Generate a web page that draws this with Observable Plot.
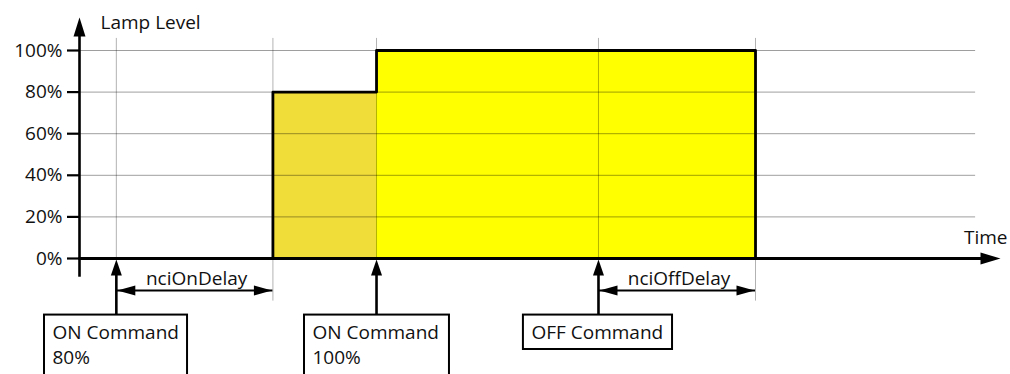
<!DOCTYPE html>
<html><head><meta charset="utf-8">
<script src="https://cdn.jsdelivr.net/npm/d3@7"></script>
<script src="https://cdn.jsdelivr.net/npm/@observablehq/plot@0.6"></script>
<style>body{margin:0;background:#fff} svg{font-family:"Open Sans",sans-serif}</style>
</head><body><div id="chart"></div>
<script>
// ---- data (time in arbitrary units, level in %) ----
const levelTimes = [0, 21.0, 32.25, 73.4];
const levelValues = [0, 80, 100, 0];
const fillStarts = [21.0, 32.25];
const fillEnds = [32.25, 73.4];
const fillLevels = [80, 100];
const fillColors = ["#F1DD39", "#FFFF00"];
const gridTimes = [4.0, 21.0, 32.25, 56.35, 73.4];
const delayEndTimes = [21.0, 73.4];
const commandTimes = [4.0, 32.25, 56.35];
const commandLabels = ["ON Command\n80%", "ON Command\n100%", "OFF Command"];
const commandBoxStarts = [-3.8, 24.43, 48.2];
const commandBoxEnds = [11.73, 40.17, 64.39];
const commandBoxBottoms = [-60, -60, -43.75];
const delayStarts = [4.0, 56.35];
const delayEnds = [21.0, 73.4];
const delayLabels = ["nciOnDelay", "nciOffDelay"];
const yTicks = [0, 20, 40, 60, 80, 100];
const yTickLabels = ["0%", "20%", "40%", "60%", "80%", "100%"];

// ---- layout helpers ----
const fs = 19;
const boxTop = -27.2;
const delayY = -15.4;
const head = {draw(ctx, l, r) { ctx.moveTo(0, -l); ctx.lineTo(r, 0); ctx.lineTo(-r, 0); ctx.closePath(); }};
const fills = fillStarts.map((s, i) => ({x1: s, x2: fillEnds[i], y: fillLevels[i], c: fillColors[i]}));
const level = levelTimes.map((t, i) => ({t, v: levelValues[i]}));
const cmds = commandTimes.map((t, i) => ({t, label: commandLabels[i], x1: commandBoxStarts[i], x2: commandBoxEnds[i], y2: commandBoxBottoms[i]}));
const delays = delayStarts.map((s, i) => ({s, e: delayEnds[i], m: (s + delayEnds[i]) / 2, label: delayLabels[i]}));

const chart = Plot.plot({
  width: 1010, height: 374,
  marginLeft: 79, marginRight: 10, marginTop: 50, marginBottom: 116,
  style: {fontFamily: "Open Sans", fontSize: fs + "px", background: "#fff"},
  x: {domain: [0, 100], axis: null},
  y: {domain: [0, 100], axis: null},
  marks: [
    Plot.rectY(fills, {x1: "x1", x2: "x2", y1: 0, y2: "y", fill: "c"}),
    Plot.ruleY(yTicks.slice(1), {x1: 0, x2: 97.3, stroke: "#000", strokeOpacity: 0.38, strokeWidth: 1}),
    Plot.ruleX(gridTimes, {y1: 0, y2: 105.8, stroke: "#000", strokeOpacity: 0.3, strokeWidth: 1}),
    Plot.ruleX(delayEndTimes, {y1: 0, y2: -20.5, stroke: "#000", strokeOpacity: 0.3, strokeWidth: 1}),
    Plot.line(level, {x: "t", y: "v", curve: "step-after", stroke: "#000", strokeWidth: 2.8}),
    // axes
    Plot.axisY({ticks: yTicks, tickFormat: (d, i) => yTickLabels[i], tickSize: 12, tickPadding: 5, fontSize: fs, strokeWidth: 2.2, stroke: "#000", color: "#111"}),
    Plot.ruleX([0], {y1: -9, y2: 108, stroke: "#000", strokeWidth: 2.6}),
    Plot.ruleY([0], {x1: 0, x2: 98, stroke: "#000", strokeWidth: 2.8}),
    Plot.vector([0], {x: 0, y: 115.9, length: 19, r: 6, rotate: 0, anchor: "end", shape: head, fill: "#000", stroke: "none"}),
    Plot.vector([0], {x: 100, y: 0, length: 20, r: 6, rotate: 90, anchor: "end", shape: head, fill: "#000", stroke: "none"}),
    Plot.text(["Lamp Level"], {x: 0, y: 110.1, dx: 21, textAnchor: "start", lineAnchor: "bottom", fontSize: fs, fill: "#111"}),
    Plot.text(["Time"], {x: 100, y: 7.2, dx: 7, textAnchor: "end", lineAnchor: "bottom", fontSize: fs, fill: "#111"}),
    // delays
    Plot.ruleY(delays, {x1: "s", x2: "e", y: delayY, stroke: "#000", strokeWidth: 2}),
    Plot.vector(delays, {x: "s", y: delayY, length: 18, r: 5, rotate: -90, anchor: "end", shape: head, fill: "#000", stroke: "none", dx: 1}),
    Plot.vector(delays, {x: "e", y: delayY, length: 18, r: 5, rotate: 90, anchor: "end", shape: head, fill: "#000", stroke: "none", dx: -1}),
    Plot.text(delays, {x: "m", y: -12.5, dx: 2, text: "label", textAnchor: "middle", lineAnchor: "bottom", fontSize: fs, fill: "#111"}),
    // commands
    Plot.ruleX(cmds, {x: "t", y1: boxTop, y2: -5, stroke: "#000", strokeWidth: 2.6}),
    Plot.vector(cmds, {x: "t", y: -0.5, length: 16, r: 5.5, rotate: 0, anchor: "end", shape: head, fill: "#000", stroke: "none"}),
    Plot.rect(cmds, {x1: "x1", x2: "x2", y1: boxTop, y2: "y2", fill: "#fff", stroke: "#000", strokeWidth: 2}),
    Plot.text(cmds, {x: "x1", y: -30.0, dx: 8, text: "label", textAnchor: "start", lineAnchor: "top", lineHeight: 25 / fs, fontSize: fs, fill: "#111"})
  ]
});
document.getElementById("chart").appendChild(chart);
</script>
</body></html>
